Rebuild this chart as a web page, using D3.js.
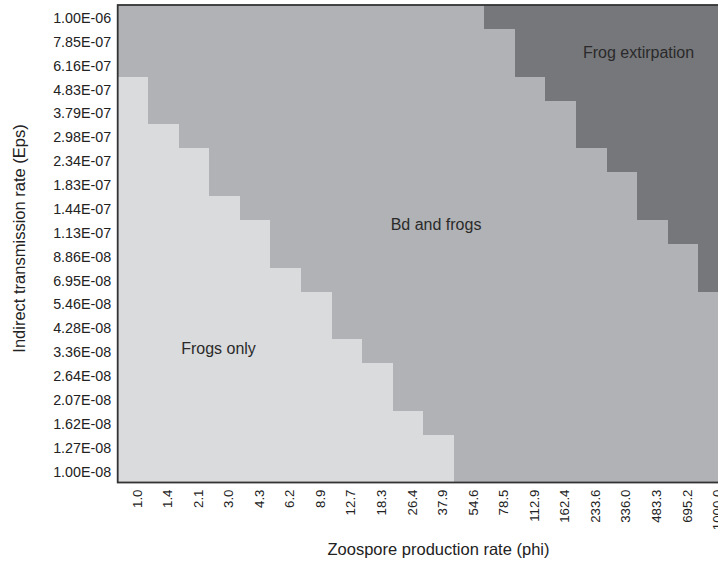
<!DOCTYPE html>
<html>
<head>
<meta charset="utf-8">
<script src="https://cdn.jsdelivr.net/npm/d3@7"></script>
<style>
  html, body { margin: 0; padding: 0; background: #fff; }
  svg { display: block; font-family: "Liberation Sans", Arial, Helvetica, sans-serif; }
</style>
</head>
<body>
<svg id="chart" width="718" height="563"></svg>
<script>
// Zoospore production rate (phi), one column each
const phiLabels = ["1.0", "1.4", "2.1", "3.0", "4.3", "6.2", "8.9", "12.7", "18.3", "26.4",
  "37.9", "54.6", "78.5", "112.9", "162.4", "233.6", "336.0", "483.3", "695.2", "1000.0"];

// Indirect transmission rate (Eps), top row first
const epsLabels = ["1.00E-06", "7.85E-07", "6.16E-07", "4.83E-07", "3.79E-07", "2.98E-07",
  "2.34E-07", "1.83E-07", "1.44E-07", "1.13E-07", "8.86E-08", "6.95E-08", "5.46E-08",
  "4.28E-08", "3.36E-08", "2.64E-08", "2.07E-08", "1.62E-08", "1.27E-08", "1.00E-08"];

// Lowest phi at which Bd persists, for each Eps row
const bdPersistsFrom = ["1.0", "1.0", "1.0", "1.4", "1.4", "2.1", "3.0", "3.0", "4.3", "6.2",
  "6.2", "8.9", "12.7", "12.7", "18.3", "26.4", "26.4", "37.9", "54.6", "54.6"];

// Lowest phi at which frogs are extirpated, for each Eps row (null = never)
const extirpationFrom = ["78.5", "112.9", "112.9", "162.4", "233.6", "233.6", "336.0", "483.3",
  "483.3", "695.2", "1000.0", "1000.0", null, null, null, null, null, null, null, null];

const outcomes = ["Frogs only", "Bd and frogs", "Frog extirpation"];
const outcomeColors = ["#dadbdd", "#b1b2b5", "#76777b"];

// Build the outcome grid
const cells = [];
epsLabels.forEach((eps, r) => {
  const bdIdx = phiLabels.indexOf(bdPersistsFrom[r]);
  const exIdx = extirpationFrom[r] === null ? Infinity : phiLabels.indexOf(extirpationFrom[r]);
  phiLabels.forEach((phi, c) => {
    const outcome = c >= exIdx ? 2 : (c >= bdIdx ? 1 : 0);
    cells.push({ phi, eps, outcome });
  });
});

const svg = d3.select("#chart");
const plotLeft = 117.7, plotTop = 5, colW = 30.55, plotBottom = 482.5;

const x = d3.scaleBand().domain(phiLabels).range([plotLeft, plotLeft + colW * phiLabels.length]).padding(0);
const y = d3.scaleBand().domain(epsLabels).range([plotTop, plotBottom]).padding(0);
const color = d3.scaleOrdinal().domain([0, 1, 2]).range(outcomeColors);

// Cells (slightly oversized to avoid hairline seams)
svg.append("g")
  .selectAll("rect")
  .data(cells)
  .join("rect")
  .attr("x", d => x(d.phi))
  .attr("y", d => y(d.eps))
  .attr("width", x.bandwidth() + 0.5)
  .attr("height", y.bandwidth() + 0.5)
  .attr("fill", d => color(d.outcome))
  .attr("shape-rendering", "crispEdges");

// Plot frame
svg.append("rect")
  .attr("x", plotLeft)
  .attr("y", plotTop)
  .attr("width", colW * phiLabels.length)
  .attr("height", plotBottom - plotTop)
  .attr("fill", "none")
  .attr("stroke", "#333")
  .attr("stroke-width", 1.8);

// Y axis labels
const yAxis = svg.append("g")
  .attr("transform", `translate(${plotLeft - 6.5},1.4)`)
  .call(d3.axisLeft(y).tickSize(0).tickPadding(0));
yAxis.select(".domain").remove();
yAxis.selectAll("text")
  .style("font-size", "14.3px")
  .style("font-family", "'Liberation Sans', Arial, sans-serif")
  .attr("fill", "#222");

// X axis labels, rotated
const xAxis = svg.append("g")
  .attr("transform", `translate(0,${plotBottom})`)
  .call(d3.axisBottom(x).tickSize(0).tickPadding(0));
xAxis.select(".domain").remove();
xAxis.selectAll("text")
  .style("font-size", "13.3px")
  .style("font-family", "'Liberation Sans', Arial, sans-serif")
  .attr("fill", "#222")
  .attr("text-anchor", "end")
  .attr("transform", "translate(4,7) rotate(-90)")
  .attr("x", 0)
  .attr("y", 0)
  .attr("dy", "0.35em");

// Region labels, placed by cell and fraction of the cell
const regionLabels = [
  { text: outcomes[0], phi: "3.0", eps: "3.36E-08", fx: 0.3, fy: 0.38 },
  { text: outcomes[1], phi: "37.9", eps: "1.13E-07", fx: 0.42, fy: 0.21 },
  { text: outcomes[2], phi: "483.3", eps: "6.16E-07", fx: 0.05, fy: 0.0 }
];
svg.append("g")
  .selectAll("text")
  .data(regionLabels)
  .join("text")
  .attr("x", d => x(d.phi) + x.bandwidth() * d.fx)
  .attr("y", d => y(d.eps) + y.bandwidth() * d.fy)
  .attr("dy", "0.35em")
  .attr("text-anchor", "middle")
  .attr("font-size", 16)
  .attr("fill", "#2a2a2a")
  .text(d => d.text);

// Axis titles
svg.append("text")
  .attr("x", 438.5)
  .attr("y", 555)
  .attr("text-anchor", "middle")
  .attr("font-size", 16.5)
  .attr("fill", "#222")
  .text("Zoospore production rate (phi)");

svg.append("text")
  .attr("transform", "translate(25,238.5) rotate(-90)")
  .attr("text-anchor", "middle")
  .attr("font-size", 16.5)
  .attr("fill", "#222")
  .text("Indirect transmission rate (Eps)");
</script>
</body>
</html>
